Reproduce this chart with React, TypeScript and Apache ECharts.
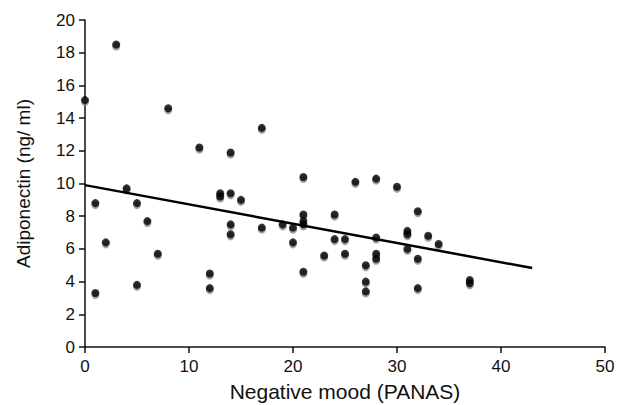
import React, { useEffect, useRef } from "react";
import * as echarts from "echarts";

const moodScores = [0, 3, 8, 11, 14, 17, 1, 1, 2, 4, 5, 5, 6, 7, 12, 12, 13, 13, 14, 14, 14, 15, 17, 19, 20, 20, 21, 21, 21, 21, 21, 23, 24, 24, 25, 25, 26, 27, 27, 27, 28, 28, 28, 28, 30, 31, 31, 31, 32, 32, 32, 33, 34, 37, 37];
const adiponectin = [15.1, 18.5, 14.6, 12.2, 11.9, 13.4, 8.8, 3.3, 6.4, 9.7, 8.8, 3.8, 7.7, 5.7, 4.5, 3.6, 9.4, 9.2, 9.4, 7.5, 6.9, 9.0, 7.3, 7.5, 7.3, 6.4, 10.4, 8.1, 7.7, 7.5, 4.6, 5.6, 8.1, 6.6, 6.6, 5.7, 10.1, 5.0, 4.0, 3.4, 10.3, 6.7, 5.7, 5.4, 9.8, 7.1, 6.9, 6.0, 8.3, 5.4, 3.6, 6.8, 6.3, 4.1, 3.9];
const trendX = [0, 43];
const trendY = [9.9, 4.83];
const xTicks = [0, 10, 20, 30, 40, 50];
const yTicks = [0, 2, 4, 6, 8, 10, 12, 14, 16, 18, 20];

export default function App() {
  const ref = useRef<HTMLDivElement>(null);
  useEffect(() => {
    if (!ref.current) return;
    const chart = echarts.init(ref.current, null, { renderer: "svg" });
    const font = "'Liberation Sans', Arial, Helvetica, sans-serif";
    const points = moodScores.map((x, i) => [x, adiponectin[i]]);
    chart.setOption({
      animation: false,
      grid: { left: 85, right: 24, top: 20, bottom: 58, containLabel: false, outerBoundsMode: "none" },
      xAxis: {
        type: "value",
        min: xTicks[0],
        max: xTicks[xTicks.length - 1],
        interval: 10,
        name: "Negative mood (PANAS)",
        nameLocation: "middle",
        nameGap: 34,
        nameTextStyle: { fontFamily: font, fontSize: 21, color: "#111" },
        axisLine: { lineStyle: { color: "#111", width: 1.5 } },
        axisTick: { show: true, length: 6, lineStyle: { color: "#111", width: 1.5 } },
        axisLabel: { fontFamily: font, fontSize: 17, color: "#111", margin: 11 },
        splitLine: { show: false },
      },
      yAxis: {
        type: "value",
        min: yTicks[0],
        max: yTicks[yTicks.length - 1],
        interval: 2,
        name: "Adiponectin (ng/ ml)",
        nameLocation: "middle",
        nameGap: 52,
        nameTextStyle: { fontFamily: font, fontSize: 19, color: "#111" },
        axisLine: { show: true, lineStyle: { color: "#111", width: 1.5 } },
        axisTick: { show: true, length: 6, lineStyle: { color: "#111", width: 1.5 } },
        axisLabel: { fontFamily: font, fontSize: 17, color: "#111", margin: 10 },
        splitLine: { show: false },
      },
      series: [
        {
          type: "scatter",
          data: points,
          symbol: "circle",
          symbolSize: 8,
          symbolOffset: [0, 2],
          itemStyle: { color: "#8a8a8a" },
          z: 2,
          silent: true,
        },
        {
          type: "scatter",
          data: points,
          symbol: "circle",
          symbolSize: 8,
          itemStyle: { color: "#000" },
          z: 3,
        },
        {
          type: "line",
          data: trendX.map((x, i) => [x, trendY[i]]),
          symbol: "none",
          lineStyle: { color: "#000", width: 2.5 },
          z: 4,
        },
      ],
    });
    return () => chart.dispose();
  }, []);
  return <div ref={ref} style={{ width: 629, height: 405, position: "absolute", left: 0, top: 0, background: "#fff" }} />;
}
